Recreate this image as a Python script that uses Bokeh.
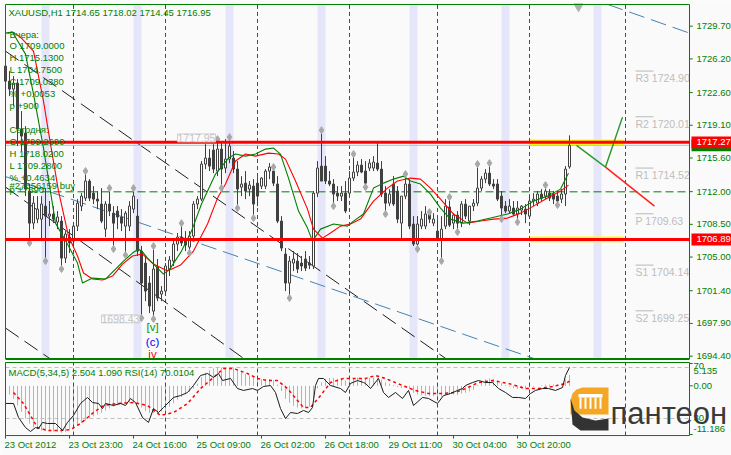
from bokeh.plotting import figure
from bokeh.models import Range1d, Label, ColumnDataSource
from bokeh.layouts import column
from bokeh.embed import file_html
from bokeh.resources import INLINE
from bokeh.core.properties import value

FONT = "Liberation Sans"
GREEN = "#008000"
BG = "#FAFAFA"

# ---------------- data ----------------
opens = [1725.43, 1723.82, 1722.97, 1723.61, 1718.69, 1718.26, 1712.06, 1708.63, 1709.06, 1709.06,
         1710.45, 1709.38, 1709.60, 1708.74, 1708.85, 1704.89, 1707.14, 1706.71, 1708.31, 1710.45,
         1711.31, 1713.13, 1711.84, 1711.20, 1710.67, 1707.99, 1710.67, 1709.70, 1709.92, 1709.28,
         1708.31, 1708.31, 1710.13, 1709.38, 1705.64, 1704.36, 1702.22, 1699.22, 1703.93, 1701.04,
         1701.36, 1703.72, 1704.57, 1706.39, 1707.14, 1706.71, 1706.07, 1707.25, 1710.67, 1711.20,
         1714.95, 1715.59, 1716.44, 1714.20, 1716.55, 1714.52, 1715.48, 1715.59, 1714.41, 1712.48,
         1712.91, 1712.27, 1712.59, 1712.91, 1712.59, 1712.59, 1714.20, 1714.20, 1712.81, 1708.85,
         1705.32, 1702.22, 1704.36, 1704.57, 1704.36, 1704.79, 1704.36, 1704.04, 1711.84, 1714.73,
         1714.73, 1713.13, 1712.81, 1711.84, 1711.52, 1711.84, 1711.84, 1713.45, 1714.09, 1714.84,
         1714.20, 1714.52, 1714.52, 1715.05, 1714.41, 1711.84, 1710.77, 1712.81, 1712.06, 1708.63,
         1711.52, 1712.81, 1708.53, 1706.39, 1708.31, 1708.31, 1709.60, 1708.63, 1707.78, 1706.93,
         1708.31, 1710.35, 1708.63, 1709.49, 1708.63, 1710.67, 1708.85, 1710.45, 1710.77, 1712.38,
         1713.34, 1713.98, 1712.81, 1712.81, 1711.52, 1710.45, 1709.92, 1710.24, 1709.60, 1710.02,
         1710.13, 1709.38, 1710.99, 1710.77, 1711.74, 1711.52, 1711.84, 1711.74, 1711.52, 1711.20,
         1711.74, 1714.65]
highs = [1726.18, 1724.89, 1724.36, 1724.04, 1720.62, 1719.01, 1712.81, 1711.52, 1711.52, 1711.52,
         1712.38, 1710.99, 1710.45, 1709.92, 1709.38, 1707.78, 1707.99, 1708.63, 1711.20, 1711.84,
         1714.20, 1713.34, 1712.59, 1712.06, 1712.38, 1710.99, 1712.38, 1710.45, 1710.45, 1710.13,
         1709.92, 1710.99, 1712.38, 1711.20, 1706.18, 1705.11, 1702.97, 1706.18, 1704.79, 1701.90,
         1704.36, 1705.11, 1706.93, 1707.57, 1708.63, 1707.78, 1707.78, 1710.99, 1711.52, 1715.27,
         1717.08, 1716.55, 1717.08, 1717.62, 1717.40, 1717.62, 1717.95, 1716.34, 1715.27, 1713.66,
         1714.20, 1713.13, 1713.34, 1713.55, 1713.55, 1714.41, 1715.05, 1714.63, 1713.66, 1709.38,
         1705.96, 1705.11, 1705.64, 1705.43, 1705.11, 1705.64, 1705.11, 1712.06, 1715.27, 1718.58,
         1715.80, 1714.20, 1713.34, 1712.59, 1712.59, 1713.13, 1714.20, 1716.02, 1715.27, 1715.48,
         1715.27, 1715.48, 1715.80, 1717.30, 1715.27, 1712.59, 1712.27, 1713.66, 1712.59, 1711.52,
         1713.88, 1713.34, 1709.38, 1709.38, 1709.92, 1710.45, 1709.81, 1709.70, 1709.06, 1709.38,
         1711.20, 1711.42, 1709.70, 1709.92, 1710.99, 1711.20, 1710.45, 1711.20, 1714.95, 1713.66,
         1714.41, 1715.05, 1713.34, 1713.34, 1712.06, 1710.99, 1711.20, 1710.99, 1710.99, 1710.56,
         1710.67, 1711.52, 1711.84, 1712.06, 1712.27, 1712.70, 1712.27, 1712.06, 1712.06, 1712.27,
         1714.73, 1718.02]
lows = [1723.29, 1722.22, 1721.15, 1716.87, 1716.34, 1711.52, 1706.50, 1707.99, 1708.63, 1706.71,
        1704.57, 1708.31, 1708.63, 1707.99, 1703.72, 1704.36, 1705.43, 1706.18, 1707.78, 1709.92,
        1710.99, 1710.99, 1710.67, 1710.13, 1708.63, 1707.14, 1709.38, 1705.86, 1707.99, 1707.78,
        1705.21, 1707.78, 1709.70, 1705.11, 1698.43, 1700.29, 1699.01, 1698.37, 1700.29, 1700.29,
        1700.83, 1702.97, 1704.04, 1705.64, 1706.18, 1705.64, 1705.43, 1706.71, 1710.13, 1710.99,
        1714.41, 1714.20, 1713.98, 1713.66, 1712.38, 1713.98, 1715.05, 1713.98, 1710.24, 1711.52,
        1711.20, 1711.52, 1709.17, 1710.45, 1712.27, 1712.27, 1713.34, 1712.59, 1708.63, 1705.64,
        1701.36, 1700.61, 1703.50, 1703.29, 1703.50, 1703.50, 1703.72, 1703.72, 1711.42, 1713.13,
        1712.81, 1712.59, 1710.45, 1710.99, 1710.99, 1709.70, 1711.52, 1713.13, 1713.66, 1713.98,
        1712.48, 1714.20, 1714.20, 1714.20, 1711.42, 1709.60, 1710.45, 1710.45, 1708.63, 1706.93,
        1711.20, 1707.99, 1706.18, 1705.86, 1707.99, 1707.99, 1708.63, 1708.31, 1706.71, 1704.57,
        1707.99, 1708.21, 1707.99, 1707.67, 1708.21, 1709.06, 1708.42, 1709.92, 1710.45, 1712.06,
        1712.91, 1712.59, 1712.27, 1710.99, 1709.06, 1709.70, 1709.70, 1709.38, 1708.74, 1709.49,
        1708.63, 1709.06, 1710.45, 1710.45, 1710.99, 1711.20, 1710.99, 1710.67, 1710.56, 1710.77,
        1710.45, 1714.45]
closes = [1723.82, 1722.97, 1723.61, 1718.69, 1717.94, 1712.27, 1708.63, 1710.77, 1710.13, 1710.67,
          1709.38, 1709.60, 1709.06, 1709.28, 1704.89, 1707.46, 1706.50, 1708.31, 1710.77, 1711.52,
          1713.13, 1711.31, 1711.20, 1710.99, 1708.85, 1710.67, 1709.92, 1708.63, 1709.28, 1708.63,
          1709.70, 1710.45, 1711.52, 1705.64, 1702.22, 1701.36, 1699.76, 1703.72, 1700.61, 1701.36,
          1704.04, 1704.68, 1706.39, 1707.14, 1706.50, 1706.28, 1707.25, 1710.67, 1711.20, 1714.95,
          1715.59, 1714.73, 1714.41, 1716.55, 1714.41, 1715.48, 1716.87, 1714.41, 1712.27, 1712.81,
          1712.06, 1712.70, 1710.67, 1711.52, 1713.45, 1714.20, 1714.63, 1712.91, 1708.85, 1705.96,
          1702.22, 1704.57, 1704.79, 1703.72, 1704.04, 1703.82, 1704.14, 1711.84, 1714.52, 1713.13,
          1713.13, 1712.81, 1711.74, 1711.52, 1711.84, 1709.92, 1713.45, 1714.09, 1714.84, 1714.09,
          1712.91, 1715.05, 1715.16, 1714.41, 1711.74, 1710.77, 1711.74, 1710.67, 1709.06, 1711.52,
          1712.81, 1708.31, 1706.39, 1708.53, 1709.06, 1709.60, 1709.06, 1709.06, 1706.93, 1707.99,
          1710.45, 1708.42, 1709.49, 1708.63, 1710.67, 1709.38, 1710.45, 1710.77, 1712.38, 1713.34,
          1713.98, 1712.81, 1712.59, 1711.20, 1710.24, 1709.92, 1710.45, 1709.60, 1710.24, 1710.45,
          1709.60, 1710.99, 1711.20, 1711.74, 1711.31, 1712.06, 1711.31, 1711.20, 1710.99, 1711.74,
          1714.41, 1716.95]

ma_fast_x = [0, 1.75, 5, 7, 9.5, 12.5, 15.75, 18, 19.25, 21.75, 25, 27.5, 29.5, 31.75, 33.25,
             34.5, 35.5, 38, 39.5, 41.25, 44, 46.5, 49, 52.5, 55.75, 57.5, 60, 62.5, 65, 67,
             68.75, 70.75, 73.25, 75.5, 76.75, 78.75, 82, 85.5, 87, 89.5, 92, 94.5, 97, 99.5,
             101.25, 103.75, 106.25, 108.75, 111.25, 114.5, 118, 121.25, 125.5, 128.75, 132,
             135.5, 138.75, 140.75]
ma_fast_y = [1728.96, 1729.06, 1726.71, 1722.43, 1716.66, 1708.63, 1706.18, 1704.36, 1702.22, 1702.75,
             1702.65, 1703.72, 1704.57, 1705.43, 1705.86, 1705.43, 1704.89, 1703.82, 1703.18, 1703.82,
             1705.64, 1707.78, 1710.67, 1713.88, 1715.59, 1716.02, 1715.80, 1716.02, 1716.55, 1716.66,
             1716.02, 1713.45, 1709.92, 1708.10, 1706.71, 1707.99, 1708.53, 1708.31, 1708.85, 1709.60,
             1712.38, 1712.91, 1713.34, 1713.66, 1713.13, 1712.81, 1711.74, 1710.24, 1709.06, 1708.63,
             1708.85, 1709.17, 1709.60, 1710.13, 1710.99, 1711.52, 1712.27, 1713.98]
ma_slow_x = [0.5, 1.75, 3.75, 7, 9.5, 11.25, 13.25, 15.75, 18, 19.5, 21.75, 24.25, 26.75, 29.25,
             31.75, 34.25, 37, 40.5, 43.75, 47, 50.5, 53, 55, 57.5, 60, 62.5, 65.75, 68.25, 70,
             72.5, 75.5, 77, 79.25, 81.25, 83.75, 86.25, 88.75, 92, 95.5, 98, 101.25, 103.75,
             106.25, 108.75, 112, 115.5, 118.75, 122, 125.5, 128.75, 132, 135.5, 138.75, 140.75]
ma_slow_y = [1728.96, 1729.06, 1728.53, 1727.03, 1721.68, 1717.08, 1712.06, 1707.25, 1705.11, 1703.29,
             1702.65, 1702.54, 1702.97, 1704.25, 1705.11, 1705.32, 1704.25, 1703.50, 1704.14, 1705.64,
             1708.53, 1711.31, 1712.81, 1715.27, 1716.02, 1715.80, 1716.12, 1716.02, 1715.48, 1713.13,
             1710.13, 1707.99, 1707.03, 1707.57, 1708.31, 1708.53, 1709.06, 1710.99, 1712.38, 1713.13,
             1713.45, 1713.34, 1712.38, 1711.20, 1709.60, 1708.63, 1708.85, 1709.06, 1709.17, 1709.70,
             1710.45, 1711.31, 1712.06, 1712.70]

frac_up_x = [20, 26, 32, 37, 44, 53, 56, 67, 79, 87, 100, 106, 111, 118, 121, 135]
frac_up_y = [1714.20, 1712.38, 1712.38, 1706.18, 1708.63, 1717.62, 1717.83, 1714.63, 1718.58, 1716.02,
             1713.88, 1709.81, 1711.42, 1714.95, 1715.05, 1712.70]
frac_dn_x = [6, 10, 14, 27, 30, 34, 37, 46, 54, 58, 62, 71, 82, 90, 95, 103, 109, 113, 124, 128, 138]
frac_dn_y = [1706.50, 1704.57, 1703.72, 1705.86, 1705.21, 1698.47, 1698.37, 1705.43, 1712.38, 1710.24,
             1709.17, 1700.61, 1710.45, 1712.48, 1709.60, 1705.86, 1704.57, 1707.67, 1709.06, 1708.74,
             1710.56]

level_lines = [1717.27, 1706.89]
bid_price = 1716.95
order_price = 1711.98
pivot_names = ["R3", "R2", "R1", "P", "S1", "S2"]
pivot_levels = [1724.90, 1720.01, 1714.52, 1709.63, 1704.14, 1699.25]
price_ticks = [1729.70, 1726.20, 1722.60, 1719.10, 1715.60, 1712.00, 1708.50, 1705.00, 1701.40,
               1697.90, 1694.40]

band_left = [9, 32, 55, 78, 101, 124, 147]
day_sep = [17, 40, 63, 86, 108, 131, 155]
time_ticks = [0, 16, 32, 48, 64, 80, 96, 112, 128]
time_labels = ["23 Oct 2012", "23 Oct 23:00", "24 Oct 16:00", "25 Oct 09:00", "26 Oct 02:00",
               "26 Oct 18:00", "29 Oct 11:00", "30 Oct 04:00", "30 Oct 20:00"]

black_lines = [([0, 110.25], [1727.03, 1694.09]), ([0, 59.75], [1712.49, 1694.09]),
               ([0, 11.25], [1697.41, 1694.09])]
blue_lines = [([0, 132.5], [1713.61, 1694.09]), ([150.5, 171], [1732.03, 1728.96])]
fc_green_x = [142.75, 150, 154.25]
fc_green_y = [1716.95, 1714.63, 1719.97]
fc_red_x = [150, 162.25]
fc_red_y = [1714.63, 1710.45]

macd_hist = [-1.5, -2.0, -3.0, -4.5, -6.0, -7.5, -8.7, -9.5, -10.0, -10.3,
             -10.4, -10.5, -10.5, -10.6, -10.8, -10.6, -10.0, -9.6, -9.0, -8.6,
             -8.0, -7.5, -7.0, -6.6, -6.2, -5.7, -5.2, -4.8, -4.4, -4.2,
             -4.0, -3.9, -3.9, -4.2, -5.0, -5.8, -6.2, -6.3, -6.3, -6.0,
             -5.5, -4.8, -4.0, -3.2, -2.6, -2.0, -1.4, -0.6, 0.5, 2.0,
             3.0, 3.6, 4.0, 4.3, 4.2, 4.1, 4.3, 4.0, 3.6, 3.2,
             2.8, 2.4, 2.0, 1.6, 1.5, 1.5, 1.6, 1.3, 0.3, -1.2,
             -3.0, -3.9, -4.6, -5.0, -5.2, -5.0, -4.8, -2.8, -0.6, 0.8,
             1.6, 1.8, 1.8, 1.6, 1.5, 1.2, 1.3, 1.6, 1.9, 1.9,
             1.7, 1.8, 1.9, 1.9, 1.4, 0.8, 0.5, 0.2, -0.3, -0.5,
             -0.3, -0.8, -1.6, -2.0, -2.2, -2.3, -2.3, -2.4, -2.6, -2.5,
             -2.2, -2.0, -2.0, -2.1, -1.8, -1.6, -1.3, -0.9, 0.2, 1.0,
             1.5, 1.7, 1.6, 1.2, 0.6, 0.2, -0.2, -0.5, -0.7, -0.7,
             -0.8, -0.4, -0.2, 0.0, 0.1, 0.3, 0.3, 0.3, 0.3, 0.5,
             1.5, 2.504]
sig_x = [2, 4.5, 6.25, 8, 10.5, 13.75, 16.25, 18.75, 22, 24.5, 28, 32, 35.5, 38.75, 42, 45.5,
         48.75, 52, 54.5, 57, 60.5, 63, 65.5, 68, 70.5, 73, 74.5, 76.25, 78.75, 81.25, 84.5, 90,
         92.5, 95, 99.25, 102.5, 105.75, 109.25, 112.5, 115, 118.25, 121.75, 125.75, 130, 133.25,
         136.75, 140, 141]
sig_y = [-1.54, -4.08, -6.83, -9.59, -10.28, -10.28, -10.05, -8.67, -6.14, -4.53, -4.07, -3.84,
         -4.53, -6.83, -6.14, -4.07, -0.62, 1.91, 3.98, 3.98, 2.83, 1.68, 1.22, 1.22, -0.62, -3.38,
         -4.99, -4.99, -2.23, 0.76, 1.68, 1.68, 2.37, 1.68, 0.07, -1.08, -1.77, -1.77, -1.54, -0.62,
         0.76, 1.22, 0.53, -0.62, -0.62, -0.16, 0.53, 1.09]
rsi_x = [0, 2, 3.25, 5, 6.25, 7.5, 8.25, 9.25, 10.5, 12.5,
         14.25, 15.5, 17, 18.75, 20.5, 21.75, 23.25, 24.25, 25, 27,
         28.75, 30, 31.25, 32.5, 34.25, 35.75, 37, 38.25, 39.5, 42,
         43.75, 45.5, 47, 48.75, 50.5, 52, 53.25, 54.25, 56.25, 58,
         59.5, 61.75, 63, 64.5, 66.25, 67.5, 68.75, 70, 71.25, 73,
         74.5, 75.75, 76.75, 77.5, 78.25, 79.5, 81.25, 83.75, 85, 86.25,
         88, 89.5, 90, 91.25, 93.25, 94.5, 95.75, 97.5, 99.25, 100.75,
         102, 104.25, 105.75, 108, 109.5, 111.25, 113, 114.25, 115, 116.75,
         118.25, 120, 121.75, 123.25, 125, 126.75, 128.25, 130, 131.25, 132.5,
         134.25, 135.75, 137.5, 139.25, 140, 141]
rsi_y = [41.8, 41.8, 30.8, 22.9, 19.8, 22.9, 22.2, 26.9, 26.1, 26.1,
         20.6, 26.9, 32.4, 41.8, 46.5, 42.5, 41.8, 37.8, 41.8, 40.2,
         41.8, 40.2, 45.7, 42.5, 30.8, 26.9, 37.8, 34.7, 38.6, 46.5,
         48.0, 50.4, 55.9, 63.7, 65.3, 62.2, 65.3, 59.8, 61.4, 53.5,
         52.0, 53.5, 52.0, 55.1, 55.9, 50.4, 37.8, 30.0, 34.7, 33.9,
         36.3, 34.7, 38.6, 55.9, 61.4, 61.4, 55.9, 53.5, 50.4, 57.5,
         59.8, 58.2, 57.5, 53.5, 61.4, 50.4, 46.5, 50.4, 45.7, 52.0,
         40.2, 46.5, 45.7, 41.8, 48.0, 49.6, 52.0, 53.5, 55.9, 58.2,
         59.8, 58.2, 58.2, 53.5, 50.4, 46.5, 46.5, 45.7, 49.6, 52.0,
         53.5, 53.5, 52.0, 54.3, 63.7, 70.0]
rsi_levels = [70, 30]
macd_ticks = [5.135, 0.0, -11.186]
macd_right_text = ["70", "5.135", "0.00", "30", "-11.186"]
macd_right_y = [4.55, 3.40, 0.07, -7.29, -9.82]

header = "XAUUSD,H1  1714.65 1718.02 1714.45 1716.95"
info_lines = ["Вчера:", "O 1709.0000", "H 1715.1300", "L 1704.7500", "C 1709.0380", "% +0.0053",
              "p +900", "Сегодня:", "O 1709.2600", "H 1718.0200", "L 1709.2800", "% +0.4634",
              "#27656159 buy", "p +7690"]
info_y = [1728.76, 1727.59, 1726.31, 1725.03, 1723.74, 1722.46, 1721.18, 1718.61, 1717.33,
          1716.04, 1714.76, 1713.48, 1712.62, 1712.19]

# ---------------- geometry of the two windows ----------------
X_LEFT, X_RIGHT = -1.25, 181.5         # canvas extent in bar units
FR_L, FR_R = 0, 171                    # chart frame (left / right border) in bar units
P_BOT, P_TOP = 1694.10, 1732.02        # price window frame bottom / top
M_BOT, M_TOP = -11.43, 5.36            # indicator window frame bottom / top
AX_TXT = 172.75                        # where the scale texts start

xr = Range1d(X_LEFT, X_RIGHT)

p1 = figure(width=731, height=360, x_range=xr, y_range=Range1d(1693.935, 1732.447),
            toolbar_location=None, output_backend="svg", x_axis_location=None, y_axis_location=None,
            min_border=0, background_fill_color=BG, border_fill_color=BG, outline_line_color=None)
p1.grid.visible = False

p1.quad(left=band_left, right=[b + 2 for b in band_left], bottom=P_BOT, top=P_TOP,
        fill_color="#E6E6FA", line_color=None)
p1.quad(left=[131, 131], right=[154.5, 154.5], bottom=[v - 0.3 for v in level_lines],
        top=[v + 0.3 for v in level_lines], fill_color="#FFFF00", line_color=None)

p1.segment(x0=day_sep, y0=P_BOT, x1=day_sep, y1=P_TOP, line_color=GREEN, line_width=1, line_dash="4 3")

for xs, ys in black_lines:
    p1.line(xs, ys, line_color="#1E1E1E", line_width=1, line_dash="16 7")
for xs, ys in blue_lines:
    p1.line(xs, ys, line_color="#4682B4", line_width=1, line_dash="16 7")

p1.segment(x0=[FR_L], y0=[order_price], x1=[FR_R], y1=[order_price], line_color=GREEN,
           line_width=1, line_dash="8 4")
p1.segment(x0=[FR_L], y0=[bid_price], x1=[FR_R], y1=[bid_price], line_color="#C0C0C0", line_width=1)

bars = list(range(len(opens)))
src = ColumnDataSource(dict(
    x=bars, h=highs, l=lows,
    top=[max(o, c) for o, c in zip(opens, closes)],
    bottom=[min(o, c) for o, c in zip(opens, closes)],
    fill=["#FFFFFF" if c >= o else "#404040" for o, c in zip(opens, closes)]))
p1.segment(x0="x", y0="l", x1="x", y1="h", source=src, line_color="#404040", line_width=1)
p1.vbar(x="x", top="top", bottom="bottom", width=0.5, source=src, fill_color="fill",
        line_color="#404040", line_width=1)

p1.line(ma_slow_x, ma_slow_y, line_color="#FF0000", line_width=1.1)
p1.line(ma_fast_x, ma_fast_y, line_color="#008000", line_width=1.1)

p1.scatter(frac_up_x, frac_up_y, marker="diamond", size=7, fill_color="#A8A8A8", line_color="#A8A8A8")
p1.scatter(frac_dn_x, frac_dn_y, marker="diamond", size=7, fill_color="#A8A8A8", line_color="#A8A8A8")

p1.line(fc_green_x, fc_green_y, line_color="#2E9A2E", line_width=1.5)
p1.line(fc_red_x, fc_red_y, line_color="#FF2020", line_width=1.5)
p1.scatter([143.25], [1731.80], marker="inverted_triangle", size=9, fill_color="#B0B0B0", line_color="#B0B0B0")

p1.segment(x0=[FR_L] * 2, y0=level_lines, x1=[FR_R] * 2, y1=level_lines, line_color="#FF0000", line_width=3)

p1.segment(x0=[157.5] * 6, y0=pivot_levels, x1=[162] * 6, y1=pivot_levels, line_color="#B8B8B8", line_width=1)
p1.text(x=[157.5] * 6, y=pivot_levels, text=["%s %.2f" % (n, v) for n, v in zip(pivot_names, pivot_levels)],
        text_baseline="top", text_align="left", text_color="#BDBDBD", text_font=value(FONT),
        text_font_size="10.5px", y_offset=1)

p1.text(x=[36.75] * 3, y=[1697.54, 1695.93, 1694.65], text=["[v]", "(c)", "iv"],
        text_color=["#009900", "#0000FF", "#FF0000"], text_align="center", text_baseline="middle",
        text_font=value(FONT), text_font_size="11.5px")

# frame borders
p1.segment(x0=[FR_L, FR_R, FR_L, FR_L], y0=[P_BOT, P_BOT, P_TOP, P_BOT],
           x1=[FR_L, FR_R, FR_R, FR_R], y1=[P_TOP, P_TOP, P_TOP, P_BOT],
           line_color=GREEN, line_width=[1, 1, 1, 2])

# price scale
p1.segment(x0=[FR_R] * len(price_ticks), y0=price_ticks, x1=[FR_R + 0.8] * len(price_ticks), y1=price_ticks,
           line_color=GREEN, line_width=1)
p1.text(x=[AX_TXT] * len(price_ticks), y=price_ticks, text=["%.2f" % t for t in price_ticks],
        text_color=GREEN, text_font=value(FONT), text_font_size="9.5px", text_baseline="middle",
        text_align="left")

# price boxes on the scale (bid box lies under the red box)
p1.quad(left=[171.5], right=[X_RIGHT], bottom=[bid_price - 0.64], top=[bid_price + 0.64],
        fill_color=GREEN, line_color=None)
p1.quad(left=[171.5] * 2, right=[X_RIGHT] * 2, bottom=[v - 0.64 for v in level_lines],
        top=[v + 0.64 for v in level_lines], fill_color="#FF0000", line_color=None)
p1.text(x=[AX_TXT] * 2, y=level_lines, text=["%.2f" % v for v in level_lines], text_color="#FFFFFF",
        text_font=value(FONT), text_font_size="9.5px", text_baseline="middle", text_align="left")

p1.add_layout(Label(x=43, y=1717.75, text="1717.95", text_font=FONT, text_font_size="10.5px",
                    text_color="#C4C4C4", text_baseline="middle", border_line_color="#D0D0D0",
                    background_fill_color=BG))
p1.add_layout(Label(x=24, y=1698.39, text="1698.43", text_font=FONT, text_font_size="10.5px",
                    text_color="#C4C4C4", text_baseline="middle", border_line_color="#D0D0D0",
                    background_fill_color=BG))

p1.add_layout(Label(x=0.75, y=1731.13, text=header, text_font=FONT, text_font_size="9.5px",
                    text_color=GREEN, text_baseline="middle"))
for t, yv in zip(info_lines, info_y):
    p1.add_layout(Label(x=1.0, y=yv, text=t, text_font=FONT, text_font_size="9.5px",
                        text_color=GREEN, text_baseline="middle"))

# ---------------- MACD + RSI window ----------------
p2 = figure(width=731, height=95, x_range=xr, y_range=Range1d(-16.02, 5.82),
            extra_y_ranges={"rsi": Range1d(0.98, 75.49)},
            toolbar_location=None, output_backend="svg", x_axis_location=None, y_axis_location=None,
            min_border=0, background_fill_color=BG, border_fill_color=BG, outline_line_color=None)
p2.grid.visible = False

for lv in rsi_levels:
    p2.line([FR_L, FR_R], [lv, lv], y_range_name="rsi", line_color="#C0C0C0", line_width=1, line_dash="4 3")
p2.segment(x0=bars, y0=[0] * len(bars), x1=bars, y1=macd_hist, line_color="#B4B4B4", line_width=1)
p2.line(sig_x, sig_y, line_color="#FF0000", line_width=1.5, line_dash="3 3")
p2.line(rsi_x, rsi_y, y_range_name="rsi", line_color="#1A1A1A", line_width=1)
p2.segment(x0=day_sep, y0=M_BOT, x1=day_sep, y1=M_TOP, line_color=GREEN, line_width=1, line_dash="4 3")

p2.add_layout(Label(x=0.75, y=3.06, text="MACD(5,34,5) 2.504 1.090  RSI(14) 70.0104", text_font=FONT,
                    text_font_size="9.5px", text_color=GREEN, text_baseline="middle"))

p2.segment(x0=[FR_L, FR_R, FR_L, FR_L], y0=[M_BOT, M_BOT, M_TOP, M_BOT],
           x1=[FR_L, FR_R, FR_R, FR_R], y1=[M_TOP, M_TOP, M_TOP, M_BOT],
           line_color=GREEN, line_width=1)

p2.segment(x0=[FR_R] * 3, y0=macd_ticks, x1=[FR_R + 0.8] * 3, y1=macd_ticks, line_color=GREEN, line_width=1)
p2.text(x=[172] * 5, y=macd_right_y, text=macd_right_text, text_color=GREEN, text_font=value(FONT),
        text_font_size="9.5px", text_baseline="middle", text_align="left")

p2.segment(x0=time_ticks, y0=M_BOT, x1=time_ticks, y1=M_BOT - 0.7, line_color=GREEN, line_width=1)
p2.text(x=time_ticks, y=[-13.49] * len(time_ticks), text=time_labels, text_color=GREEN,
        text_font=value(FONT), text_font_size="9.5px", text_baseline="middle", text_align="left",
        x_offset=-1)

# logo (decoration)
p2.patch([141.25, 141.75, 142.75, 144.25, 150.75, 150.75, 141.25],
         [-3.38, -1.77, -0.85, -0.39, -0.39, -6.6, -6.6], fill_color="#F5A623", line_color=None)
p2.quad(left=[143.25], right=[149.25], top=[-1.9], bottom=[-2.7], fill_color="#FFFFFF", line_color=None)
p2.segment(x0=[143.75, 145.0, 146.25, 147.5, 148.75], y0=[-2.7] * 5,
           x1=[143.75, 145.0, 146.25, 147.5, 148.75], y1=[-5.3] * 5, line_color="#FFFFFF", line_width=2)
p2.patch([141.25, 142.25, 144.25, 147.5, 150.75, 150.75, 143.75, 141.75],
         [-2.92, -5.68, -7.29, -7.98, -7.52, -10.28, -10.28, -8.9], fill_color="#333333", line_color=None)
p2.text(x=[151.25], y=[-6.36], text=["пантеон"], text_color="#3A3A3A", text_font=value(FONT),
        text_font_size="31px", text_baseline="middle", text_align="left")

layout = column(p1, p2)
open("out.html", "w").write(file_html(layout, INLINE))
